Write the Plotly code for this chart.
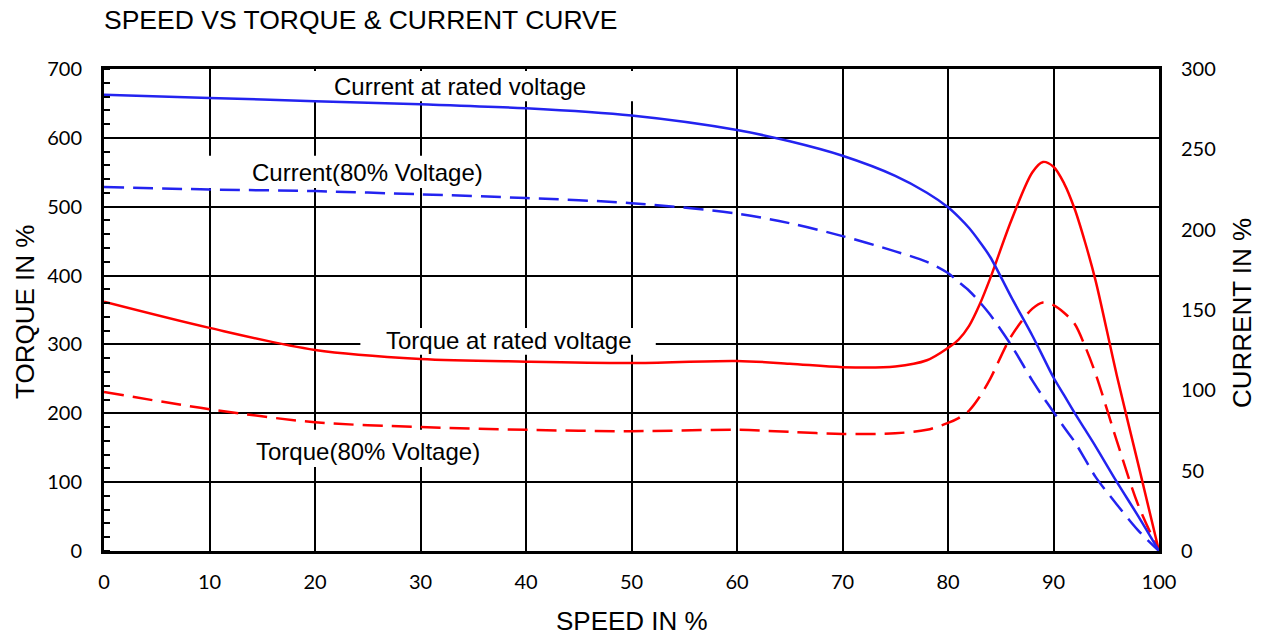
import plotly.graph_objects as go

# ---- data ----
speed = [0, 10, 20, 30, 40, 50, 60, 65, 70, 75, 78, 80, 81, 82, 83, 84, 86, 88, 89, 90, 91, 92, 93, 94, 96, 98, 100]

current_rated = [284, 282, 280, 278, 275.5, 271, 262, 255, 246, 233.5, 223, 214, 208, 201, 192.5, 183, 158, 134, 121, 108, 97, 86, 75.5, 65, 43, 22, 0]
current_80 = [226.5, 225, 224, 222, 219.7, 216.5, 210, 204, 196, 186.5, 180, 173, 167.5, 162, 155, 147, 128, 106, 96, 86.5, 77, 68, 57, 46, 29, 13, 0]
torque_rated = [362, 324, 292, 279, 275, 273, 276, 272, 267, 268, 277, 295, 307, 327, 358, 396, 480, 550, 565, 558, 534, 497, 448, 392, 255, 128, 0]
torque_80 = [231, 206, 187, 180, 176, 174, 176, 173, 170, 171, 176, 186, 193, 204, 224, 250, 312, 352, 361, 357, 346, 330, 297, 257, 160, 68, 0]

x_ticks = [0, 10, 20, 30, 40, 50, 60, 70, 80, 90, 100]
torque_ticks = [0, 100, 200, 300, 400, 500, 600, 700]
current_ticks = [0, 50, 100, 150, 200, 250, 300]

title_text = "SPEED VS TORQUE & CURRENT CURVE"
x_title = "SPEED IN %"
y_title = "TORQUE IN %"
y2_title = "CURRENT IN %"

# label name, centre (speed, torque), box (x0, x1, y0, y1) in data units
labels = [
    ("Current at rated voltage", 33.7, 675, 17.4, 50.35, 653, 697),
    ("Current(80% Voltage)", 25.0, 550, 9.85, 39.8, 527, 574),
    ("Torque at rated voltage", 38.4, 305, 24.3, 52.3, 285, 324),
    ("Torque(80% Voltage)", 25.0, 145, 10.5, 39.5, 122, 176),
]

RED = "#FF0000"
BLUE = "#2323F0"
TXT = "Liberation Sans, Arial, sans-serif"
NUM = "Lato, sans-serif"

W, H = 1263, 637
L, T = 104, 69
PW, PH = 1055, 482
R, B = W - L - PW, H - T - PH

fig = go.Figure()
fig.add_trace(go.Scatter(x=speed, y=current_rated, yaxis="y2", mode="lines",
                         line=dict(color=BLUE, width=2.5, shape="spline", smoothing=0.9),
                         name="Current at rated voltage"))
fig.add_trace(go.Scatter(x=speed, y=current_80, yaxis="y2", mode="lines",
                         line=dict(color=BLUE, width=2.5, shape="spline", smoothing=0.9, dash="20px,9px"),
                         name="Current(80% Voltage)"))
fig.add_trace(go.Scatter(x=speed, y=torque_rated, mode="lines",
                         line=dict(color=RED, width=2.5, shape="spline", smoothing=0.9),
                         name="Torque at rated voltage"))
fig.add_trace(go.Scatter(x=speed, y=torque_80, mode="lines",
                         line=dict(color=RED, width=2.5, shape="spline", smoothing=0.9, dash="20px,9px"),
                         name="Torque(80% Voltage)"))

for text, cx, cy, x0, x1, y0, y1 in labels:
    fig.add_shape(type="rect", xref="x", yref="y", x0=x0, x1=x1, y0=y0, y1=y1,
                  fillcolor="white", line=dict(width=0), layer="between")
    fig.add_annotation(x=cx, y=cy, xref="x", yref="y", text=text, showarrow=False,
                       font=dict(family=TXT, size=24, color="black"))

# axis titles as annotations (positions in paper units of the plot area)
fig.add_annotation(x=(632 - L) / PW, y=(T + PH - 621) / PH, xref="paper", yref="paper", text=x_title,
                   showarrow=False, font=dict(family=TXT, size=26, color="black"),
                   xanchor="center", yanchor="middle")
fig.add_annotation(x=(25 - L) / PW, y=(T + PH - 312) / PH, xref="paper", yref="paper", text=y_title,
                   showarrow=False, textangle=-90, font=dict(family=TXT, size=26, color="black"),
                   xanchor="center", yanchor="middle")
fig.add_annotation(x=(1242 - L) / PW, y=(T + PH - 313) / PH, xref="paper", yref="paper", text=y2_title,
                   showarrow=False, textangle=-90, font=dict(family=TXT, size=26, color="black"),
                   xanchor="center", yanchor="middle")

fig.update_layout(
    width=W, height=H, autosize=False,
    margin=dict(l=L, r=R, t=T, b=B, pad=0),
    paper_bgcolor="white", plot_bgcolor="white",
    showlegend=False,
    title=dict(text=title_text, x=L / W, xanchor="left", y=1 - 20 / H, yanchor="middle",
               font=dict(family=TXT, size=26.5, color="black")),
    xaxis=dict(range=[0, 100], tickvals=x_ticks, showgrid=True, gridcolor="black", gridwidth=2,
               showline=True, linecolor="black", linewidth=3, mirror=True,
               ticks="", zeroline=False, ticklabelstandoff=11,
               tickfont=dict(family=NUM, size=20, color="black")),
    yaxis=dict(range=[0, 700], tickvals=torque_ticks, showgrid=True, gridcolor="black", gridwidth=2,
               showline=True, linecolor="black", linewidth=3, mirror=True,
               ticks="", zeroline=False, ticklabelstandoff=15,
               minor=dict(dtick=20, ticks="inside", ticklen=6, tickwidth=2, tickcolor="black", showgrid=False),
               tickfont=dict(family=NUM, size=20, color="black")),
    yaxis2=dict(range=[0, 300], tickvals=current_ticks, overlaying="y", side="right",
                showgrid=False, showline=False, zeroline=False, ticks="", ticklabelstandoff=21,
                tickfont=dict(family=NUM, size=20, color="black")),
)

# remove the browser's default 8px page margin so the figure fills the window exactly
fig.write_html("out.html", config={"displayModeBar": False},
               post_script="document.body.style.margin='0';document.body.style.overflow='hidden';")
